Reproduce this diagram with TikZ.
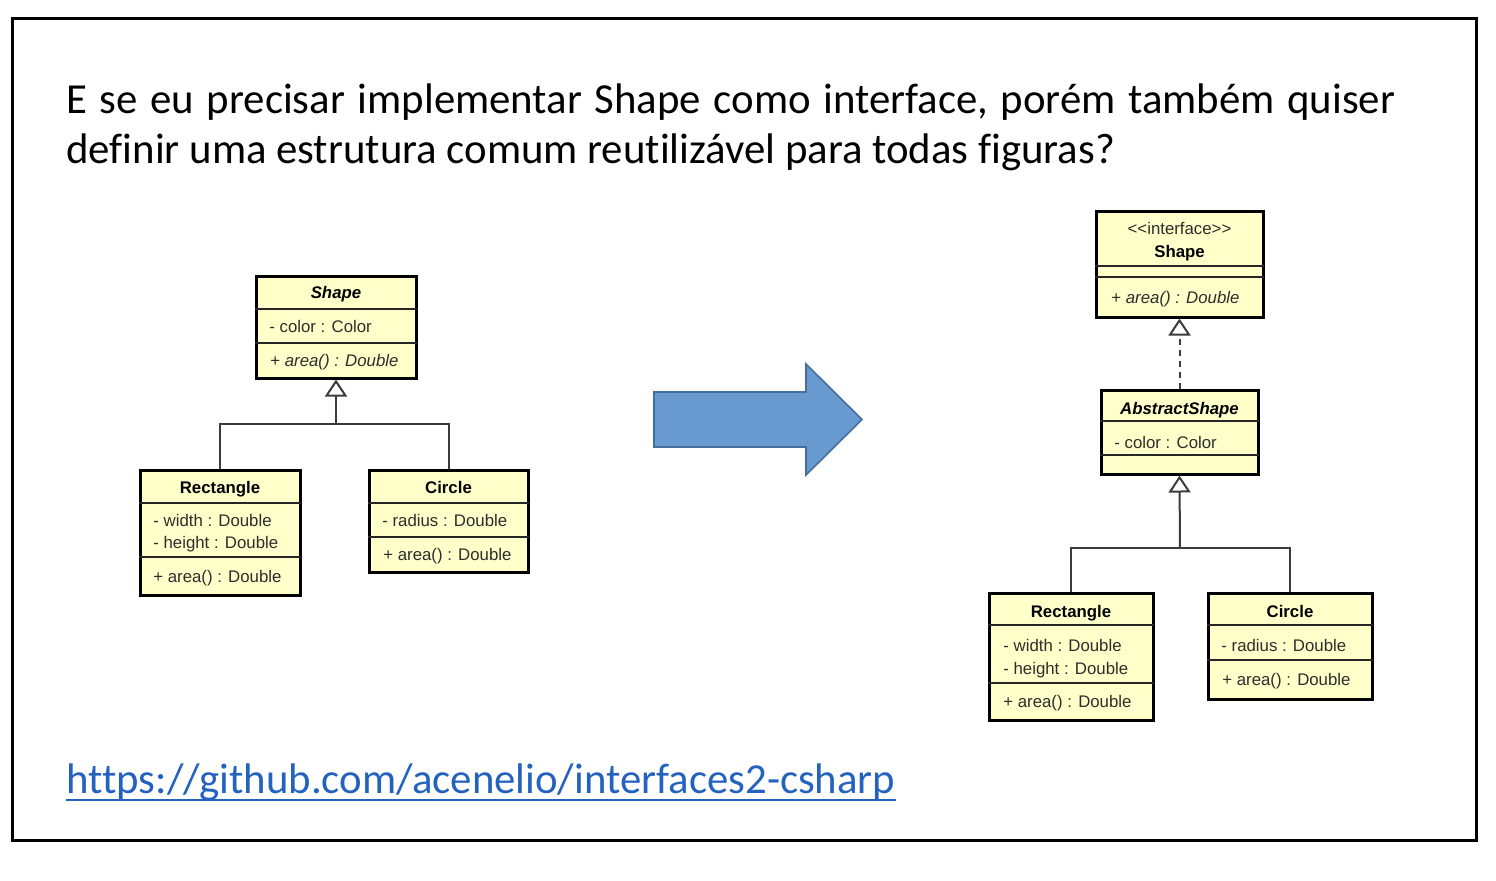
\documentclass[tikz,border=0pt]{standalone}
\usepackage{fontspec}
\setmainfont{Carlito}[Ligatures={TeX,NoCommon}]
\newfontfamily\umlsans{Liberation Sans}
\usepackage{tikz}
\usetikzlibrary{arrows.meta, calc}

\definecolor{umlfill}{RGB}{255,255,202}
\definecolor{umltext}{RGB}{45,45,45}
\definecolor{umlline}{RGB}{60,60,60}
\definecolor{arrowfill}{RGB}{104,154,208}
\definecolor{arrowdraw}{RGB}{68,110,158}
\definecolor{linkblue}{RGB}{36,98,192}

\tikzset{
    umlbox/.style={draw=black, line width=1.5pt, fill=umlfill, inner sep=0pt},
    umlsep/.style={draw=black!85, line width=0.7pt},
    member/.style={anchor=base west, inner sep=0pt, text=umltext, font=\umlsans\fontsize{8.4}{10}\selectfont},
    classname/.style={anchor=base, inner sep=0pt, font=\umlsans\bfseries\fontsize{8.4}{10}\selectfont},
    link/.style={draw=umlline, line width=1pt},
    inherit/.style={link, -{Triangle[length=8.5pt, width=11pt, fill=white]}},
}

\begin{document}
\begin{tikzpicture}[x=0.5pt, y=-0.5pt]
    \useasboundingbox (0,0) rectangle (1496,880);
    % Slide frame
    \draw [line width=1.5pt] (12.5,18.5) rectangle (1476.5,840.5);
    % Question
    \node [anchor=base west, inner sep=0pt, font=\fontsize{21.4}{25}\selectfont] (line1) at (66,113)
        {\spaceskip=6.3pt\relax E se eu precisar implementar Shape como interface, porém também quiser};
    \node [anchor=base west, inner sep=0pt, font=\fontsize{21.4}{25}\selectfont] (line2) at (66,163)
        {definir uma estrutura comum reutilizável para todas figuras?};

    % Left diagram: abstract class Shape
    \node [umlbox, minimum width=80pt, minimum height=51pt] (shapeL) at (336,327) {};
    \draw [umlsep] (255,309) -- (417,309);
    \draw [umlsep] (255,343) -- (417,343);
    \node [classname] at (336,298) {\itshape Shape};
    \node [member] at (269,332) {- color : Color};
    \node [member] at (270,366) {+ \itshape area() : Double};

    \node [umlbox, minimum width=80pt, minimum height=62.5pt] (rectL) at (220,532.5) {};
    \draw [umlsep] (139,503) -- (301,503);
    \draw [umlsep] (139,557) -- (301,557);
    \node [classname] at (220,493) {Rectangle};
    \node [member] at (153,526) {- width : Double};
    \node [member] at (153,548) {- height : Double};
    \node [member] at (153,582) {+ area() : Double};

    \node [umlbox, minimum width=79.5pt, minimum height=51pt] (circL) at (448.5,521) {};
    \draw [umlsep] (368,503) -- (529,503);
    \draw [umlsep] (368,537) -- (529,537);
    \node [classname] at (448.5,493) {Circle};
    \node [member] at (382,526) {- radius : Double};
    \node [member] at (383,560) {+ area() : Double};

    \coordinate (forkL) at (336,424);
    \draw [link] (rectL.north) |- (forkL);
    \draw [link] (circL.north) |- (forkL);
    \draw [inherit] (forkL) -- (shapeL.south);

    % Block arrow
    \draw [arrowdraw, fill=arrowfill, line width=0.8pt]
        (654,392) -- (806,392) -- (806,364) -- (862,419.5) -- (806,475) -- (806,447) -- (654,447) -- cycle;

    % Right diagram: interface + abstract class
    \node [umlbox, minimum width=83.5pt, minimum height=53pt] (ishape) at (1179.5,264) {};
    \draw [umlsep] (1095,266) -- (1264,266);
    \draw [umlsep] (1095,277) -- (1264,277);
    \node [member, anchor=base] at (1179.5,234) {<\kern0pt<interface>\kern0pt>};
    \node [classname] at (1179.5,257) {Shape};
    \node [member] at (1111,303) {+ \itshape area() : Double};

    \node [umlbox, minimum width=78.5pt, minimum height=42pt] (abstr) at (1179.5,432) {};
    \draw [umlsep] (1100,421) -- (1259,421);
    \draw [umlsep] (1100,455) -- (1259,455);
    \node [classname] at (1179.5,414) {\itshape AbstractShape};
    \node [member] at (1114,448) {- color : Color};

    \node [umlbox, minimum width=82pt, minimum height=63.5pt] (rectR) at (1071,656.5) {};
    \draw [umlsep] (988,625) -- (1154,625);
    \draw [umlsep] (988,683) -- (1154,683);
    \node [classname] at (1071,617) {Rectangle};
    \node [member] at (1003,651) {- width : Double};
    \node [member] at (1003,674) {- height : Double};
    \node [member] at (1003,707) {+ area() : Double};

    \node [umlbox, minimum width=82pt, minimum height=53pt] (circR) at (1290,646) {};
    \draw [umlsep] (1207,625) -- (1373,625);
    \draw [umlsep] (1207,660) -- (1373,660);
    \node [classname] at (1290,617) {Circle};
    \node [member] at (1221,651) {- radius : Double};
    \node [member] at (1222,685) {+ area() : Double};

    \draw [inherit, dash pattern=on 3pt off 2.5pt] (abstr.north) -- (ishape.south);
    \coordinate (forkR) at (1180,548);
    \draw [link] (rectR.north) |- (forkR);
    \draw [link] (circR.north) |- (forkR);
    \draw [inherit] (forkR) -- (abstr.south);

    % Repository link
    \node [anchor=base west, inner sep=0pt, text=linkblue, font=\fontsize{21.4}{25}\selectfont] (repo) at (66,793)
        {https://github.com/acenelio/interfaces2-csharp};
    \draw [linkblue, line width=1pt] ($(repo.base west)+(0,7)$) -- ($(repo.base east)+(0,7)$);
\end{tikzpicture}
\end{document}
